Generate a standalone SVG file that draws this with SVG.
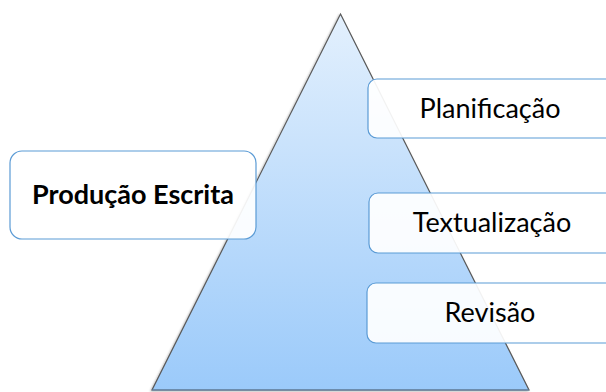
<svg xmlns="http://www.w3.org/2000/svg" width="606" height="392" viewBox="0 0 606 392">
<defs>
<linearGradient id="tri" x1="0" y1="0" x2="0" y2="1">
<stop offset="0" stop-color="#E3F0FD"/>
<stop offset="1" stop-color="#9BCAFA"/>
</linearGradient>
<filter id="sh" x="-10%" y="-10%" width="120%" height="120%">
<feDropShadow dx="-1" dy="1" stdDeviation="1" flood-color="#000" flood-opacity="0.3"/>
</filter>
<style>
.box{fill:#FFFFFF;fill-opacity:0.92;stroke:#5B9BD5;stroke-width:1.2}
.t{font-family:Lato,"Open Sans","Liberation Sans",sans-serif;font-size:27px;fill:#000;text-anchor:middle}
.b{font-weight:bold}
</style>
</defs>
<rect width="606" height="392" fill="#FFFFFF"/>
<g id="pyramid">
<polygon points="340.5,14 529,390 152,390" fill="url(#tri)" stroke="#5A5A5A" stroke-width="1.2" filter="url(#sh)"/>
<line x1="152" y1="390" x2="529" y2="390" stroke="#5E86B0" stroke-width="1.2"/>
</g>
<g id="producao">
<rect class="box" x="10" y="151" width="246" height="88" rx="12"/>
<text class="t b" x="133" y="204">Produção Escrita</text>
</g>
<g id="planificacao">
<rect class="box" x="368" y="79" width="250" height="59" rx="9"/>
<text class="t" x="490" y="118">Planificação</text>
</g>
<g id="textualizacao">
<rect class="box" x="369" y="193" width="250" height="60" rx="9"/>
<text class="t" x="492" y="232">Textualização</text>
</g>
<g id="revisao">
<rect class="box" x="367" y="283" width="252" height="60" rx="9"/>
<text class="t" x="490" y="322">Revisão</text>
</g>
<g id="connectors"></g>
</svg>
